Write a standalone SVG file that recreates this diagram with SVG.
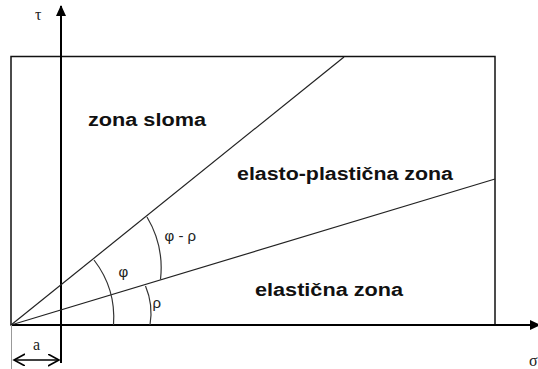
<svg xmlns="http://www.w3.org/2000/svg" width="538" height="369" viewBox="0 0 538 369">
<style>
.ax{stroke:#000;stroke-width:2;fill:none}
.bx{stroke:#111;stroke-width:1.5;fill:none}
.ln{stroke:#222;stroke-width:1.2;fill:none}
.arc{stroke:#333;stroke-width:1.2;fill:none}
.lbl{font-family:"Liberation Sans",Arial,sans-serif;font-weight:bold;font-size:18px;fill:#111}
.gr{font-family:"Liberation Sans",Arial,sans-serif;font-size:15px;fill:#222}
.sr{font-family:"Liberation Serif","Times New Roman",serif;font-size:16px;fill:#222}
</style>
<defs>
<marker id="tri" markerWidth="12" markerHeight="12" refX="10" refY="5" orient="auto" markerUnits="userSpaceOnUse">
<path d="M0,0 L11,5 L0,10 Z" fill="#000"/>
</marker>
<marker id="chev" markerWidth="14" markerHeight="14" refX="11" refY="6" orient="auto-start-reverse" markerUnits="userSpaceOnUse">
<path d="M0,0 L11,6 L0,12" fill="none" stroke="#000" stroke-width="1.6"/>
</marker>
</defs>
<g id="frame">
<rect x="11" y="56.5" width="484" height="268.5" class="bx"/>
</g>
<g id="connectors">
<line x1="61" y1="363" x2="61" y2="6" class="ax" marker-end="url(#tri)"/>
<line x1="11" y1="325" x2="540" y2="325" class="ax" marker-end="url(#tri)"/>
<line x1="11" y1="325" x2="344" y2="57" class="ln"/>
<line x1="11" y1="325" x2="495" y2="179" class="ln"/>
<path d="M94,260 A95,95 0 0 1 113.5,325" class="arc"/>
<path d="M145.5,286 A70,70 0 0 1 150,325" class="arc"/>
<path d="M147,217 A100,100 0 0 1 160.5,279.5" class="arc"/>
<line x1="11.5" y1="325" x2="11.5" y2="369" stroke="#999" stroke-width="1"/>
<line x1="14" y1="360" x2="59" y2="360" stroke="#000" stroke-width="1.6" marker-start="url(#chev)" marker-end="url(#chev)"/>
</g>
<g id="zona-sloma"><text x="88" y="126" class="lbl" textLength="118" lengthAdjust="spacingAndGlyphs">zona sloma</text></g>
<g id="elasto-plasticna"><text x="237" y="180" class="lbl" textLength="216" lengthAdjust="spacingAndGlyphs">elasto-plastična zona</text></g>
<g id="elasticna"><text x="255" y="296" class="lbl" textLength="148" lengthAdjust="spacingAndGlyphs">elastična zona</text></g>
<g id="angles">
<text x="118.5" y="277" class="gr">φ</text>
<text x="152.5" y="308" class="gr">ρ</text>
<text x="164.5" y="241" class="gr">φ - ρ</text>
</g>
<g id="axis-labels">
<text x="35" y="20" class="sr">τ</text>
<text x="529" y="366" class="sr">σ</text>
<text x="33" y="350" class="sr">a</text>
</g>
</svg>
